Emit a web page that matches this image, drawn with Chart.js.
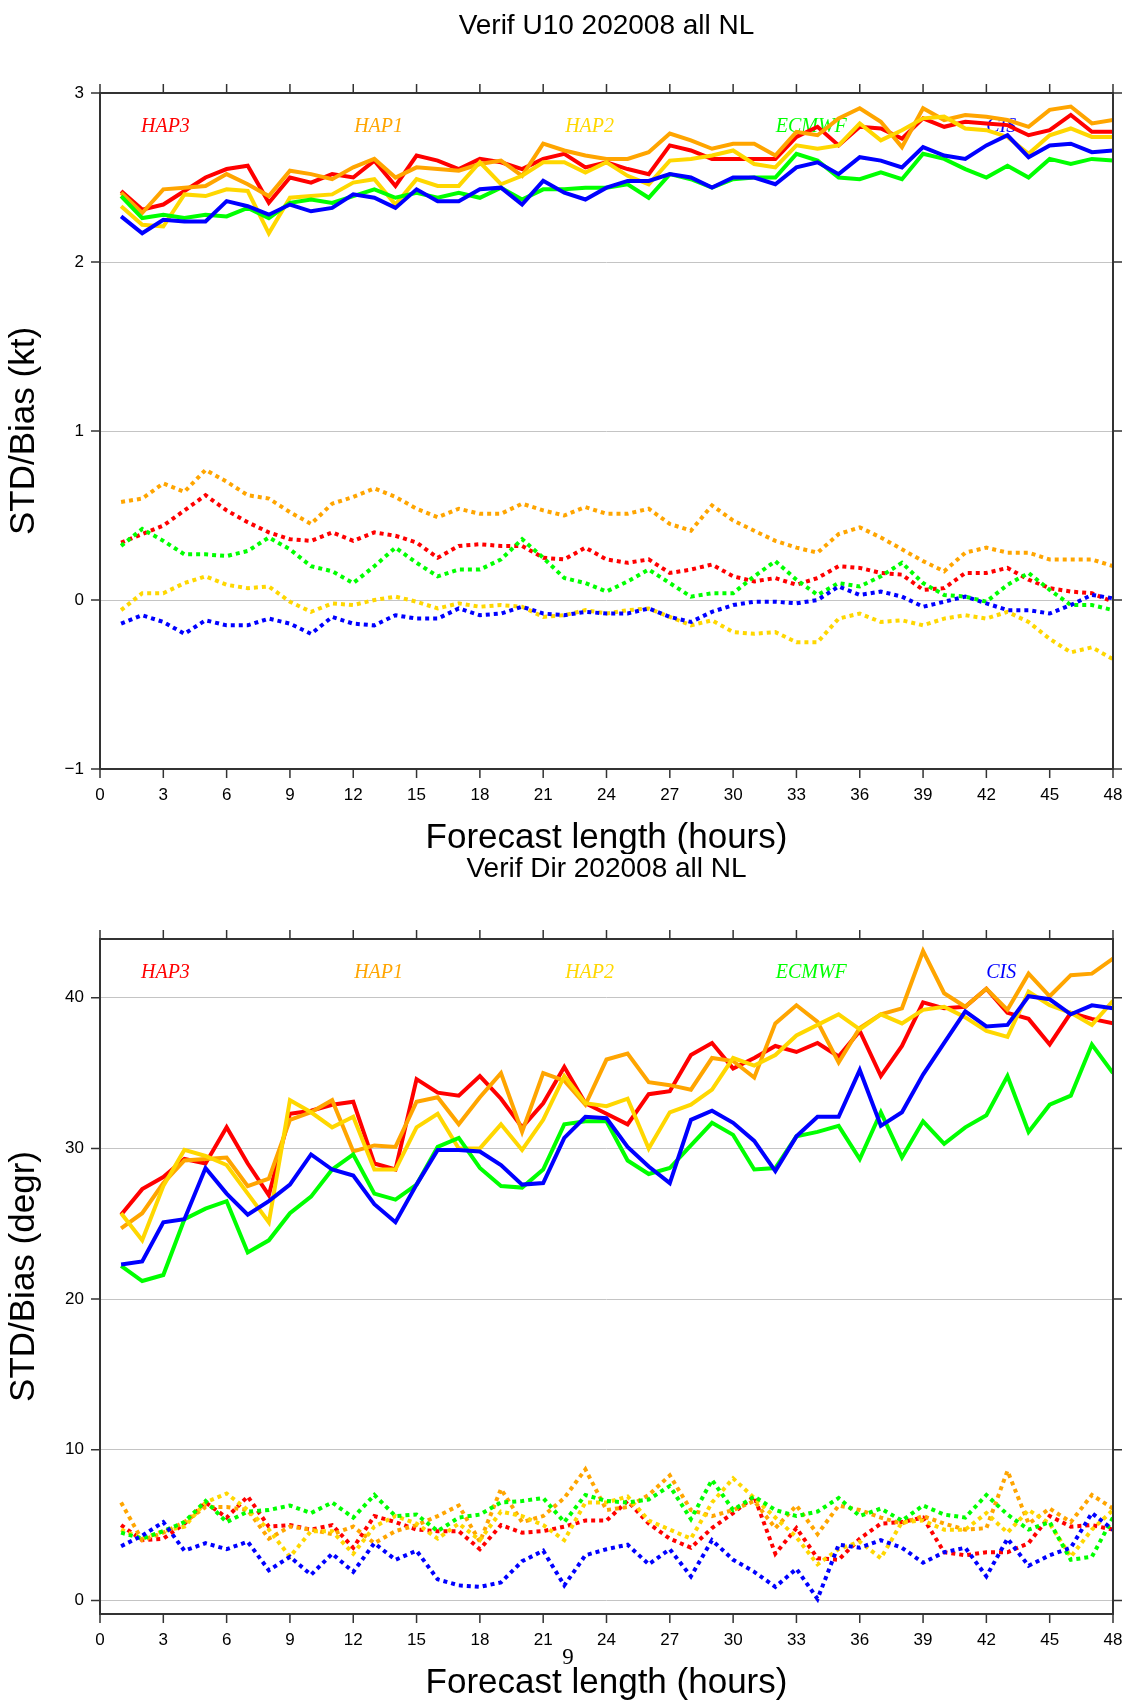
<!DOCTYPE html>
<html>
<head>
<meta charset="utf-8">
<title>Verif U10 / Dir 202008 all NL</title>
<script src="https://cdn.jsdelivr.net/npm/chart.js@4.4.1/dist/chart.umd.min.js"></script>
<style>
  body { margin: 0; background: #fff; }
  #page { position: relative; width: 1129px; height: 1702px; }
  canvas { position: absolute; left: 0; }
</style>
</head>
<body>
<div id="page">
  <canvas id="u10" width="1129" height="854" style="top:0px"></canvas>
  <canvas id="dir" width="1129" height="848" style="top:854px"></canvas>
</div>
<script>
// forecast hours and axis ticks
const hours = [1, 2, 3, 4, 5, 6, 7, 8, 9, 10, 11, 12, 13, 14, 15, 16, 17, 18, 19, 20, 21, 22, 23, 24,
  25, 26, 27, 28, 29, 30, 31, 32, 33, 34, 35, 36, 37, 38, 39, 40, 41, 42, 43, 44, 45, 46, 47, 48];
const xTickValues = [0, 3, 6, 9, 12, 15, 18, 21, 24, 27, 30, 33, 36, 39, 42, 45, 48];
const u10TickValues = [-1, 0, 1, 2, 3];
const dirTickValues = [0, 10, 20, 30, 40];

const modelNames = ['HAP3', 'HAP1', 'HAP2', 'ECMWF', 'CIS'];
const modelColors = ['#ff0000', '#ffa500', '#ffd700', '#00ff00', '#0000ff'];
// where the model names sit along the x axis (hours)
const labelHours = [3.1, 13.2, 23.2, 33.7, 42.7];

// U10 standard deviation (kt)
const u10StdHap3 = [2.42, 2.31, 2.34, 2.42, 2.50, 2.55, 2.57, 2.35, 2.50, 2.47, 2.52, 2.50, 2.60, 2.45, 2.63, 2.60,
  2.55, 2.61, 2.59, 2.55, 2.61, 2.64, 2.56, 2.59, 2.55, 2.52, 2.69, 2.66, 2.61, 2.61, 2.61, 2.61,
  2.74, 2.80, 2.69, 2.80, 2.79, 2.73, 2.85, 2.80, 2.83, 2.82, 2.81, 2.75, 2.78, 2.87, 2.77, 2.77];
const u10StdHap1 = [2.41, 2.29, 2.43, 2.44, 2.45, 2.52, 2.46, 2.39, 2.54, 2.52, 2.49, 2.56, 2.61, 2.50, 2.56, 2.55,
  2.54, 2.58, 2.60, 2.51, 2.70, 2.66, 2.63, 2.61, 2.61, 2.65, 2.76, 2.72, 2.67, 2.70, 2.70, 2.63,
  2.77, 2.75, 2.85, 2.91, 2.83, 2.68, 2.91, 2.84, 2.87, 2.86, 2.84, 2.80, 2.90, 2.92, 2.82, 2.84];
const u10StdHap2 = [2.33, 2.22, 2.21, 2.40, 2.39, 2.43, 2.42, 2.17, 2.38, 2.39, 2.40, 2.47, 2.49, 2.34, 2.49, 2.45,
  2.45, 2.59, 2.46, 2.51, 2.59, 2.59, 2.53, 2.59, 2.51, 2.46, 2.60, 2.61, 2.63, 2.66, 2.58, 2.56,
  2.69, 2.67, 2.69, 2.82, 2.72, 2.78, 2.85, 2.86, 2.79, 2.78, 2.74, 2.64, 2.75, 2.79, 2.74, 2.74];
const u10StdEcmwf = [2.39, 2.26, 2.28, 2.26, 2.28, 2.27, 2.32, 2.26, 2.35, 2.37, 2.35, 2.39, 2.43, 2.38, 2.41, 2.38,
  2.41, 2.38, 2.44, 2.37, 2.43, 2.43, 2.44, 2.44, 2.46, 2.38, 2.52, 2.49, 2.44, 2.49, 2.50, 2.50,
  2.64, 2.60, 2.50, 2.49, 2.53, 2.49, 2.64, 2.61, 2.55, 2.50, 2.57, 2.50, 2.61, 2.58, 2.61, 2.60];
const u10StdCis = [2.27, 2.17, 2.25, 2.24, 2.24, 2.36, 2.33, 2.28, 2.34, 2.30, 2.32, 2.40, 2.38, 2.32, 2.43, 2.36,
  2.36, 2.43, 2.44, 2.34, 2.48, 2.41, 2.37, 2.44, 2.48, 2.48, 2.52, 2.50, 2.44, 2.50, 2.50, 2.46,
  2.56, 2.59, 2.52, 2.62, 2.60, 2.56, 2.68, 2.63, 2.61, 2.69, 2.75, 2.62, 2.69, 2.70, 2.65, 2.66];

// U10 bias (kt)
const u10BiasHap3 = [0.34, 0.39, 0.44, 0.53, 0.62, 0.53, 0.46, 0.40, 0.36, 0.35, 0.40, 0.35, 0.40, 0.38, 0.34, 0.25,
  0.32, 0.33, 0.32, 0.32, 0.25, 0.24, 0.31, 0.24, 0.22, 0.24, 0.16, 0.18, 0.21, 0.14, 0.11, 0.13,
  0.09, 0.13, 0.20, 0.19, 0.16, 0.15, 0.06, 0.07, 0.16, 0.16, 0.19, 0.12, 0.07, 0.05, 0.04, -0.01];
const u10BiasHap1 = [0.58, 0.60, 0.69, 0.64, 0.77, 0.70, 0.62, 0.60, 0.52, 0.45, 0.57, 0.61, 0.66, 0.61, 0.54, 0.49,
  0.54, 0.51, 0.51, 0.57, 0.53, 0.50, 0.55, 0.51, 0.51, 0.54, 0.45, 0.41, 0.56, 0.47, 0.41, 0.35,
  0.31, 0.28, 0.39, 0.43, 0.37, 0.30, 0.23, 0.17, 0.28, 0.31, 0.28, 0.28, 0.24, 0.24, 0.24, 0.20];
const u10BiasHap2 = [-0.06, 0.04, 0.04, 0.10, 0.14, 0.09, 0.07, 0.08, -0.01, -0.07, -0.02, -0.03, 0.00, 0.02, -0.01, -0.05,
  -0.02, -0.04, -0.03, -0.04, -0.10, -0.09, -0.06, -0.08, -0.06, -0.05, -0.10, -0.15, -0.12, -0.19, -0.20, -0.19,
  -0.25, -0.25, -0.11, -0.08, -0.13, -0.12, -0.15, -0.11, -0.09, -0.11, -0.07, -0.13, -0.23, -0.31, -0.28, -0.35];
const u10BiasEcmwf = [0.32, 0.42, 0.35, 0.27, 0.27, 0.26, 0.29, 0.37, 0.30, 0.20, 0.17, 0.10, 0.20, 0.31, 0.22, 0.14,
  0.18, 0.18, 0.24, 0.36, 0.25, 0.13, 0.10, 0.05, 0.11, 0.18, 0.10, 0.02, 0.04, 0.04, 0.14, 0.23,
  0.12, 0.03, 0.10, 0.08, 0.14, 0.22, 0.10, 0.03, 0.02, -0.01, 0.09, 0.16, 0.06, -0.03, -0.03, -0.06];
const u10BiasCis = [-0.14, -0.09, -0.13, -0.20, -0.12, -0.15, -0.15, -0.11, -0.14, -0.20, -0.10, -0.14, -0.15, -0.09, -0.11, -0.11,
  -0.05, -0.09, -0.08, -0.04, -0.08, -0.09, -0.07, -0.08, -0.08, -0.05, -0.10, -0.13, -0.07, -0.03, -0.01, -0.01,
  -0.02, 0.00, 0.08, 0.03, 0.05, 0.02, -0.04, -0.01, 0.02, -0.02, -0.06, -0.06, -0.08, -0.03, 0.03, 0.01];

// wind direction standard deviation (degr)
const dirStdHap3 = [25.6, 27.3, 28.1, 29.3, 29.0, 31.4, 29.0, 26.9, 32.3, 32.5, 32.9, 33.1, 29.0, 28.6, 34.6, 33.7,
  33.5, 34.8, 33.3, 31.4, 33.0, 35.4, 33.0, 32.3, 31.6, 33.6, 33.8, 36.2, 37.0, 35.3, 36.0, 36.8,
  36.4, 37.0, 36.1, 37.8, 34.8, 36.8, 39.7, 39.3, 39.4, 40.6, 39.0, 38.6, 36.9, 39.0, 38.6, 38.3];
const dirStdHap1 = [24.7, 25.7, 27.7, 29.2, 29.3, 29.4, 27.5, 28.0, 31.9, 32.4, 33.2, 29.8, 30.2, 30.1, 33.1, 33.4,
  31.6, 33.4, 35.0, 31.1, 35.0, 34.5, 32.9, 35.9, 36.3, 34.4, 34.2, 33.9, 36.0, 35.8, 34.7, 38.3,
  39.5, 38.4, 35.7, 38.0, 38.9, 39.3, 43.1, 40.3, 39.4, 40.6, 39.2, 41.6, 40.1, 41.5, 41.6, 42.6];
const dirStdHap2 = [25.7, 23.9, 27.5, 29.9, 29.5, 28.9, 27.0, 25.1, 33.2, 32.4, 31.4, 32.1, 28.6, 28.6, 31.4, 32.3,
  30.0, 30.0, 31.6, 29.9, 31.9, 34.8, 33.0, 32.8, 33.3, 30.0, 32.4, 32.9, 33.9, 36.0, 35.5, 36.2,
  37.5, 38.2, 38.9, 37.9, 38.9, 38.3, 39.2, 39.4, 38.7, 37.8, 37.4, 40.4, 39.5, 39.0, 38.2, 39.8];
const dirStdEcmwf = [22.2, 21.2, 21.6, 25.3, 26.0, 26.5, 23.1, 23.9, 25.7, 26.8, 28.6, 29.6, 27.0, 26.6, 27.6, 30.1,
  30.7, 28.7, 27.5, 27.4, 28.6, 31.6, 31.8, 31.8, 29.2, 28.3, 28.7, 30.2, 31.7, 30.9, 28.6, 28.7,
  30.8, 31.1, 31.5, 29.3, 32.4, 29.4, 31.8, 30.3, 31.4, 32.2, 34.8, 31.1, 32.9, 33.5, 36.9, 35.0];
const dirStdCis = [22.3, 22.5, 25.1, 25.3, 28.7, 27.0, 25.6, 26.5, 27.6, 29.6, 28.6, 28.2, 26.3, 25.1, 27.6, 29.9,
  29.9, 29.8, 28.9, 27.6, 27.7, 30.7, 32.1, 32.0, 30.1, 28.8, 27.7, 31.9, 32.5, 31.7, 30.5, 28.5,
  30.8, 32.1, 32.1, 35.2, 31.5, 32.4, 34.9, 37.0, 39.1, 38.1, 38.2, 40.1, 39.9, 38.9, 39.5, 39.3];

// wind direction bias (degr)
const dirBiasHap3 = [5.0, 4.0, 4.1, 5.1, 6.5, 5.5, 6.9, 4.9, 5.0, 4.7, 5.0, 3.5, 5.6, 5.2, 4.7, 4.6,
  4.6, 3.4, 5.0, 4.5, 4.6, 4.9, 5.3, 5.3, 6.6, 5.1, 4.1, 3.5, 4.8, 5.8, 6.9, 3.1,
  4.8, 2.8, 2.7, 4.1, 5.1, 5.2, 5.5, 3.2, 3.0, 3.2, 3.2, 3.8, 5.6, 4.9, 5.0, 4.7];
const dirBiasHap1 = [6.5, 4.0, 4.5, 5.2, 6.2, 6.2, 6.0, 4.1, 4.9, 4.7, 4.4, 4.9, 3.8, 4.6, 5.0, 5.6,
  6.3, 3.9, 7.4, 5.2, 5.6, 6.8, 8.7, 6.0, 6.2, 7.0, 8.3, 6.0, 5.6, 6.0, 6.6, 4.8,
  6.3, 4.4, 6.3, 6.0, 5.5, 5.1, 5.6, 5.1, 4.7, 4.8, 8.6, 5.1, 6.1, 5.2, 7.0, 6.1];
const dirBiasHap2 = [4.7, 4.1, 4.6, 4.9, 6.5, 7.1, 6.0, 4.7, 2.9, 4.6, 4.6, 3.1, 4.9, 5.6, 5.1, 4.1,
  5.1, 4.0, 5.9, 5.6, 5.0, 4.0, 6.5, 6.5, 6.9, 5.3, 4.7, 4.1, 6.5, 8.1, 6.8, 5.5,
  4.2, 2.4, 3.4, 3.9, 2.8, 5.2, 5.3, 4.7, 4.7, 5.8, 4.5, 6.0, 5.1, 2.9, 4.7, 6.0];
const dirBiasEcmwf = [4.5, 4.1, 4.6, 5.2, 6.6, 5.2, 5.9, 6.0, 6.3, 5.8, 6.5, 5.5, 7.0, 5.6, 5.7, 4.6,
  5.5, 5.7, 6.5, 6.6, 6.8, 5.2, 7.0, 6.6, 6.5, 6.7, 7.6, 5.4, 8.0, 6.0, 6.9, 6.0,
  5.6, 5.9, 6.8, 5.6, 6.1, 5.3, 6.3, 5.7, 5.5, 7.0, 5.7, 4.7, 5.2, 2.7, 2.9, 5.5];
const dirBiasCis = [3.6, 4.3, 5.2, 3.3, 3.8, 3.4, 3.9, 2.0, 2.9, 1.7, 3.1, 1.9, 3.8, 2.7, 3.3, 1.4,
  1.0, 0.9, 1.2, 2.6, 3.3, 1.0, 3.0, 3.4, 3.7, 2.4, 3.4, 1.6, 4.0, 2.7, 1.9, 0.9,
  2.1, 0.1, 3.7, 3.5, 4.0, 3.5, 2.5, 3.2, 3.5, 1.6, 4.1, 2.3, 3.0, 3.5, 5.8, 4.7];

const sansFont = '"Liberation Sans", Arial, sans-serif';
const serifFont = '"Liberation Serif", "Times New Roman", serif';

// one solid (std) or dotted (bias) line per model
function series(values, model, dotted) {
  return {
    data: values.map((v, i) => ({ x: hours[i], y: v })),
    borderColor: modelColors[model],
    borderWidth: 4,
    borderDash: dotted ? [4, 4] : [],
    pointRadius: 0,
    fill: false,
    tension: 0,
    order: 5 - model
  };
}

// frame with outward ticks, model names and the text round the plot
const framePlugin = {
  id: 'frame',
  beforeDatasetsDraw(chart) {
    const { ctx, chartArea: a, scales } = chart;
    ctx.save();
    ctx.font = 'italic 20px ' + serifFont;
    ctx.textAlign = 'center';
    ctx.textBaseline = 'middle';
    modelNames.forEach((name, i) => {
      ctx.fillStyle = modelColors[i];
      ctx.fillText(name, scales.x.getPixelForValue(labelHours[i]), a.top + 34);
    });
    ctx.restore();
  },
  afterDraw(chart, args, opts) {
    const { ctx, chartArea: a, scales } = chart;
    ctx.save();
    ctx.strokeStyle = '#333';
    ctx.lineWidth = 2;
    ctx.strokeRect(a.left, a.top, a.right - a.left, a.bottom - a.top);

    ctx.lineWidth = 1.5;
    ctx.beginPath();
    scales.x.ticks.forEach(t => {
      const px = scales.x.getPixelForValue(t.value);
      ctx.moveTo(px, a.bottom); ctx.lineTo(px, a.bottom + 9);
      ctx.moveTo(px, a.top); ctx.lineTo(px, a.top - 9);
    });
    scales.y.ticks.forEach(t => {
      const py = scales.y.getPixelForValue(t.value);
      ctx.moveTo(a.left, py); ctx.lineTo(a.left - 9, py);
      ctx.moveTo(a.right, py); ctx.lineTo(a.right + 9, py);
    });
    ctx.stroke();

    const midX = (a.left + a.right) / 2;
    ctx.fillStyle = '#000';
    ctx.textAlign = 'center';
    ctx.textBaseline = 'middle';
    ctx.font = '28px ' + sansFont;
    ctx.fillText(opts.title, midX, opts.titleY);
    ctx.font = '35px ' + sansFont;
    ctx.fillText('Forecast length (hours)', midX, a.bottom + 69);
    ctx.save();
    ctx.translate(24, (a.top + a.bottom) / 2);
    ctx.rotate(-Math.PI / 2);
    ctx.fillText(opts.yTitle, 0, 0);
    ctx.restore();
    if (opts.pageNumber) {
      ctx.font = '23px ' + serifFont;
      ctx.fillText(opts.pageNumber, 568, a.bottom + 44);
    }
    ctx.restore();
  }
};

function drawPanel(canvasId, panel) {
  const datasets = [];
  panel.std.forEach((values, i) => datasets.push(series(values, i, false)));
  panel.bias.forEach((values, i) => datasets.push(series(values, i, true)));

  new Chart(document.getElementById(canvasId), {
    type: 'line',
    data: { datasets: datasets },
    plugins: [framePlugin],
    options: {
      responsive: false,
      animation: false,
      events: [],
      layout: { padding: { top: panel.padTop, right: 16, left: 0, bottom: 0 } },
      plugins: {
        legend: { display: false },
        tooltip: { enabled: false },
        frame: { title: panel.title, titleY: panel.titleY, yTitle: panel.yTitle, pageNumber: panel.pageNumber }
      },
      scales: {
        x: {
          type: 'linear',
          min: 0,
          max: 48,
          afterBuildTicks: s => { s.ticks = xTickValues.map(v => ({ value: v })); },
          // fixed axis height; end labels may overhang the plot sides
          afterFit: s => { s.height = panel.xAxisHeight; s.paddingLeft = 0; s.paddingRight = 0; },
          grid: { display: false, drawTicks: false },
          border: { display: false },
          ticks: { padding: 16, color: '#000', autoSkip: false, maxRotation: 0,
                   font: { family: sansFont, size: 17 } }
        },
        y: {
          type: 'linear',
          min: panel.yMin,
          max: panel.yMax,
          afterBuildTicks: s => { s.ticks = panel.yTicks.map(v => ({ value: v })); },
          afterFit: s => { s.width = 100; },
          grid: { color: '#c4c4c4', lineWidth: 1, drawTicks: false },
          border: { display: false },
          ticks: { padding: 16, color: '#000',
                   font: { family: sansFont, size: 17 },
                   callback: v => String(v).replace('-', '\u2212') }
        }
      }
    }
  });
}

drawPanel('u10', {
  title: 'Verif U10 202008 all NL',
  titleY: 26,
  yTitle: 'STD/Bias (kt)',
  yMin: -1, yMax: 3,
  yTicks: u10TickValues,
  padTop: 93,
  xAxisHeight: 85,
  std: [u10StdHap3, u10StdHap1, u10StdHap2, u10StdEcmwf, u10StdCis],
  bias: [u10BiasHap3, u10BiasHap1, u10BiasHap2, u10BiasEcmwf, u10BiasCis]
});

drawPanel('dir', {
  title: 'Verif Dir 202008 all NL',
  titleY: 15,
  yTitle: 'STD/Bias (degr)',
  yMin: -0.9, yMax: 43.9,
  yTicks: dirTickValues,
  padTop: 85,
  xAxisHeight: 88,
  pageNumber: '9',
  std: [dirStdHap3, dirStdHap1, dirStdHap2, dirStdEcmwf, dirStdCis],
  bias: [dirBiasHap3, dirBiasHap1, dirBiasHap2, dirBiasEcmwf, dirBiasCis]
});
</script>
</body>
</html>
